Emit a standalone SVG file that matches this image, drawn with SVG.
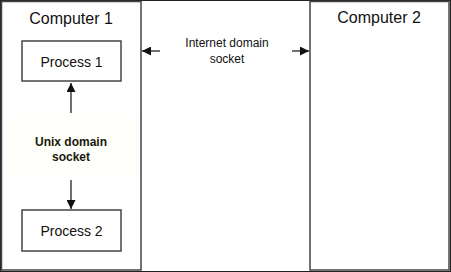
<svg xmlns="http://www.w3.org/2000/svg" width="451" height="272" viewBox="0 0 451 272">
<style>
.box{fill:#fff;stroke:#444;stroke-width:1.5}
.t{font-family:"Liberation Sans",Arial,sans-serif;fill:#111;text-anchor:middle}
.big{font-size:16px}
.mid{font-size:14px}
.sm{font-size:12px}
.b{font-size:12px;font-weight:bold;fill:#1a1a0a}
.ln{stroke:#111;stroke-width:1.2;fill:none}
</style>
<defs>
<marker id="ah" viewBox="0 0 10 10" refX="10" refY="5" markerWidth="9" markerHeight="9" markerUnits="userSpaceOnUse" orient="auto">
<path d="M0,0 L10,5 L0,10 z" fill="#111"/>
</marker>
</defs>
<rect x="0.5" y="0.5" width="450" height="271" fill="#fff" stroke="#222" stroke-width="1"/>
<g id="computer1">
<rect class="box" x="1.5" y="1.5" width="139.5" height="268.5"/>
<text class="t big" x="71" y="24">Computer 1</text>
</g>
<g id="computer2">
<rect class="box" x="310" y="1.5" width="139" height="268.5"/>
<text class="t big" x="379" y="23">Computer 2</text>
</g>
<g id="process1">
<rect class="box" x="22" y="41" width="99" height="40"/>
<text class="t mid" x="71.5" y="67">Process 1</text>
</g>
<g id="process2">
<rect class="box" x="22" y="210" width="99" height="41"/>
<text class="t mid" x="71.5" y="236">Process 2</text>
</g>
<g id="unix-label">
<rect x="8" y="115" width="129" height="63" fill="#fefefa"/>
<text class="t b" x="71" y="146">Unix domain</text>
<text class="t b" x="71" y="161">socket</text>
</g>
<g id="internet-label">
<text class="t sm" x="227" y="47">Internet domain</text>
<text class="t sm" x="227" y="63">socket</text>
</g>
<g id="connectors">
<line class="ln" x1="71" y1="113" x2="71" y2="83" marker-end="url(#ah)"/>
<line class="ln" x1="71" y1="180" x2="71" y2="209" marker-end="url(#ah)"/>
<line class="ln" x1="160" y1="51" x2="142" y2="51" marker-end="url(#ah)"/>
<line class="ln" x1="292" y1="51" x2="309" y2="51" marker-end="url(#ah)"/>
</g>
</svg>
